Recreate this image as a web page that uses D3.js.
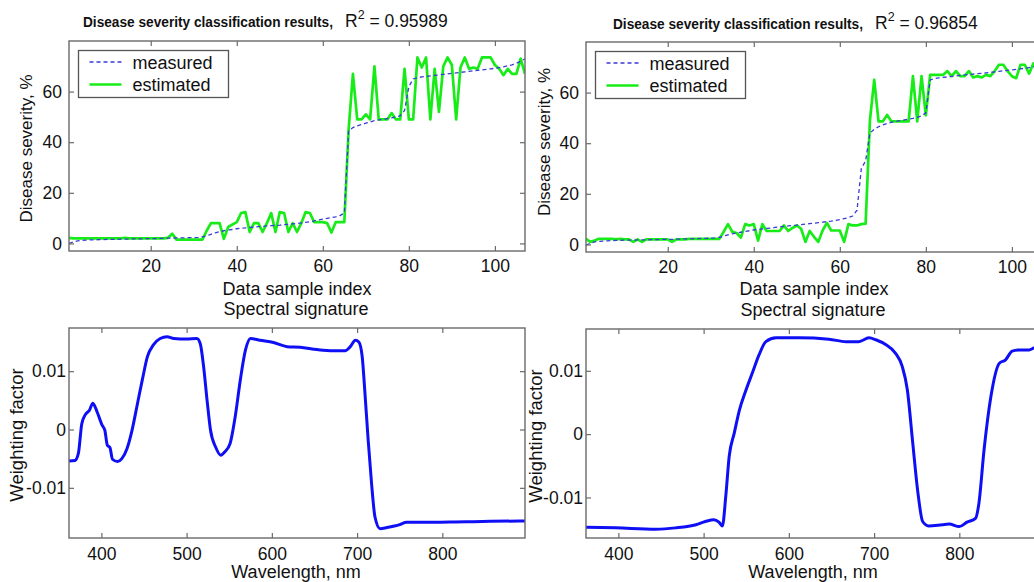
<!DOCTYPE html>
<html>
<head>
<meta charset="utf-8">
<script src="https://cdnjs.cloudflare.com/ajax/libs/d3/7.8.5/d3.min.js"></script>
<style>
  body { margin: 0; background: #fff; }
  svg { display: block; font-family: "Liberation Sans", Arial, sans-serif; }
</style>
</head>
<body>
<div id="chart"></div>
<script>
// ---- data ----
var sevTicksX = [20, 40, 60, 80, 100],
	sevTicksY = [0, 20, 40, 60],
	wlTicksX = [400, 500, 600, 700, 800],
	wfTicksY = [-0.01, 0, 0.01];

var legendNames = ["measured", "estimated"];
var r2Values = ["0.95989", "0.96854"];

// left model, sample index 1..107
var measured1 = [
	0, 0.6, 1.0, 1.2, 1.3, 1.4, 1.4, 1.5, 1.5, 1.6,
	1.6, 1.6, 1.7, 1.7, 1.7, 1.8, 1.8, 1.8, 1.9, 1.9,
	1.9, 2.0, 2.0, 2.1, 2.1, 2.2, 2.2, 2.2, 2.3, 2.3,
	2.4, 2.6, 3.0, 3.6, 4.2, 4.6, 5.0, 5.3, 5.5, 5.8,
	6.0, 6.1, 6.3, 6.4, 6.6, 6.7, 6.9, 7.0, 7.1, 7.2,
	7.4, 7.5, 7.7, 7.9, 8.1, 8.3, 8.6, 8.9, 9.3, 9.6,
	9.9, 10.2, 10.5, 11.0, 12.0, 44.5, 45.8, 46.5, 47.0, 47.5,
	48.0, 48.5, 48.8, 49.0, 49.3, 49.6, 50.0, 50.5, 52.5, 62.0,
	65.0, 65.5, 65.8, 66.0, 66.2, 66.4, 66.6, 66.8, 67.0, 67.2,
	67.4, 67.6, 67.8, 68.0, 68.2, 68.4, 68.6, 68.8, 69.0, 69.2,
	69.5, 69.8, 70.2, 70.6, 71.2, 72.0, 73.0
];
var estimated1 = [
	2.2, 2.0, 2.0, 2.0, 2.0, 2.0, 2.0, 2.0, 2.0, 2.0,
	2.0, 2.0, 2.0, 2.2, 2.0, 2.0, 2.0, 2.0, 2.0, 2.0,
	2.0, 2.0, 2.0, 2.2, 3.8, 1.5, 1.5, 1.5, 1.5, 1.5,
	1.5, 1.5, 5.0, 8.0, 8.0, 8.0, 1.8, 6.5, 7.5, 8.4,
	12.0, 12.4, 4.5, 8.0, 8.0, 4.5, 8.0, 12.0, 4.5, 12.4,
	12.0, 4.5, 8.0, 4.5, 8.0, 12.4, 12.0, 8.4, 8.4, 8.4,
	8.0, 4.3, 8.4, 8.4, 8.4, 45.0, 67.0, 49.0, 49.0, 51.0,
	49.0, 70.0, 49.0, 49.0, 49.0, 51.5, 49.0, 49.0, 69.0, 49.0,
	49.0, 73.5, 69.5, 73.5, 49.0, 69.0, 52.0, 70.0, 73.5, 70.5,
	49.0, 69.5, 73.5, 69.0, 69.5, 69.0, 73.5, 73.5, 73.5, 70.5,
	69.0, 66.5, 69.0, 67.0, 67.0, 73.0, 67.0
];

// right model
var measured2 = [
	-0.3, 0.5, 1.0, 1.2, 1.3, 1.4, 1.5, 1.6, 1.6, 1.7,
	1.7, 1.7, 1.8, 1.8, 1.8, 1.9, 1.9, 1.9, 2.0, 2.0,
	2.0, 2.1, 2.1, 2.2, 2.2, 2.3, 2.3, 2.4, 2.4, 2.5,
	2.6, 2.8, 3.3, 3.8, 4.2, 4.5, 4.8, 5.1, 5.4, 5.7,
	5.9, 6.1, 6.3, 6.5, 6.7, 6.9, 7.1, 7.3, 7.5, 7.6,
	7.8, 8.0, 8.2, 8.4, 8.6, 8.8, 9.0, 9.2, 9.5, 9.8,
	10.2, 10.6, 11.2, 13.5, 30.0, 33.0, 44.0, 45.5, 46.5, 47.2,
	47.8, 48.3, 48.6, 48.9, 49.2, 49.5, 49.8, 50.2, 50.8, 52.0,
	65.0, 65.5, 65.8, 66.0, 66.2, 66.4, 66.6, 66.8, 67.0, 67.1,
	67.3, 67.5, 67.6, 67.8, 68.0, 68.2, 68.4, 68.6, 68.8, 69.0,
	69.2, 69.4, 69.6, 69.9, 70.2, 70.6, 71.0
];
var estimated2 = [
	2.2, 1.0, 1.5, 2.2, 2.2, 2.2, 2.2, 2.0, 2.2, 2.0,
	2.0, 1.0, 2.0, 1.0, 2.0, 2.0, 2.0, 2.0, 2.0, 2.0,
	1.0, 2.0, 2.0, 2.0, 2.2, 2.2, 2.2, 2.2, 2.2, 2.2,
	2.2, 2.2, 5.0, 8.0, 5.0, 4.5, 2.7, 8.0, 7.5, 8.0,
	1.5, 8.0, 5.3, 5.3, 5.3, 5.3, 7.5, 5.3, 6.5, 7.5,
	6.2, 1.0, 5.3, 3.0, 1.0, 5.5, 8.5, 5.5, 5.5, 5.5,
	1.0, 8.0, 7.5, 7.5, 8.0, 8.2, 49.0, 65.0, 48.6, 48.6,
	51.2, 48.6, 48.6, 48.6, 48.6, 48.6, 66.5, 48.6, 66.5, 51.0,
	67.0, 67.0, 67.0, 67.0, 68.5, 66.5, 68.5, 66.5, 66.5, 68.5,
	66.0, 66.5, 66.0, 67.0, 66.5, 68.5, 71.0, 71.0, 68.5, 66.5,
	65.7, 71.0, 71.0, 67.5, 71.5, 70.0, 68.0
];

// spectral signatures: wavelength (nm) and weighting factor
var wavelength1 = [362, 369, 373, 377, 381, 386, 390, 395, 401, 404, 407, 410, 413, 419, 424, 430,
	436, 442, 448, 454, 461, 469, 477, 485, 500, 512, 516, 520, 524, 528, 534, 540, 545, 551, 557,
	563, 569, 575, 586, 602, 618, 633, 653, 672, 686, 692, 698, 702, 706, 709, 713, 717, 721, 727,
	735, 750, 758, 774, 828, 891, 897];
var weight1 = [-0.0054, -0.0053, -0.0041, 0.0010, 0.0025, 0.0033, 0.0045, 0.0030, 0.0007, -0.0001,
	-0.0027, -0.0031, -0.0051, -0.0055, -0.0050, -0.0033, -0.0001, 0.0042, 0.0085, 0.0125, 0.0145,
	0.0156, 0.0159, 0.0156, 0.0155, 0.0156, 0.0147, 0.0107, 0.0050, -0.0001, -0.0030, -0.0044,
	-0.0038, -0.0024, 0.0022, 0.0085, 0.0136, 0.0156, 0.0153, 0.0149, 0.0142, 0.0141, 0.0137,
	0.0135, 0.0135, 0.0142, 0.0153, 0.0150, 0.0125, 0.0067, -0.0018, -0.0093, -0.0150, -0.0170,
	-0.0168, -0.0163, -0.0159, -0.0159, -0.0158, -0.0157, -0.0157];

var wavelength2 = [362, 397, 444, 467, 491, 502, 512, 518, 522, 526, 530, 536, 542, 549, 557, 565,
	573, 585, 612, 647, 667, 682, 694, 702, 714, 725, 733, 739, 745, 751, 757, 764, 780, 788, 800,
	809, 819, 823, 829, 837, 847, 854, 862, 870, 882, 888, 897];
var weight2 = [-0.0147, -0.0148, -0.0150, -0.0148, -0.0143, -0.0138, -0.0135, -0.0139, -0.0145,
	-0.0098, -0.0035, 0.0002, 0.0038, 0.0067, 0.0096, 0.0125, 0.0146, 0.0152, 0.0152, 0.0150,
	0.0146, 0.0146, 0.0152, 0.0149, 0.0141, 0.0128, 0.0107, 0.0070, -0.0009, -0.0088, -0.0138,
	-0.0145, -0.0143, -0.0142, -0.0146, -0.0139, -0.0133, -0.0109, -0.0025, 0.0059, 0.0112,
	0.0117, 0.0131, 0.0133, 0.0133, 0.0136, 0.0136];

// ---- drawing ----
var W = 1034, H = 582;
var FONT = "'Liberation Sans', Arial, sans-serif";
var BOX = "#6a6a6a";
var GREEN = "#18ec18", DASHBLUE = "#3a3ad6", SPECBLUE = "#0f0ff5";

var svg = d3.select("#chart").append("svg")
	.attr("width", W)
	.attr("height", H);

svg.append("rect").attr("width", W).attr("height", H).attr("fill", "#fff");

var clipId = 0;

function drawAxes(g, x, y, xTicks, yTicks, yFmt, padX, padY) {
	var x0 = x.range()[0], x1 = x.range()[1],
		y0 = y.range()[1], y1 = y.range()[0];

	var axes = [
		g.append("g").attr("transform", "translate(0," + y1 + ")")
			.call(d3.axisBottom(x).tickValues(xTicks).tickSizeInner(-5).tickSizeOuter(0)
				.tickPadding(padX).tickFormat(d3.format("d"))),
		g.append("g").attr("transform", "translate(0," + y0 + ")")
			.call(d3.axisTop(x).tickValues(xTicks).tickSizeInner(-5).tickSizeOuter(0).tickFormat("")),
		g.append("g").attr("transform", "translate(" + x0 + ",0)")
			.call(d3.axisLeft(y).tickValues(yTicks).tickSizeInner(-5).tickSizeOuter(0)
				.tickPadding(padY).tickFormat(yFmt)),
		g.append("g").attr("transform", "translate(" + x1 + ",0)")
			.call(d3.axisRight(y).tickValues(yTicks).tickSizeInner(-5).tickSizeOuter(0).tickFormat(""))
	];
	axes.forEach(function(a) {
		a.attr("font-family", FONT).attr("font-size", 17.5);
		a.select(".domain").remove();
		a.selectAll(".tick line").attr("stroke", BOX).attr("stroke-width", 1.2);
		a.selectAll(".tick text").attr("fill", "#111");
	});

	g.append("rect")
		.attr("x", x0).attr("y", y0)
		.attr("width", x1 - x0).attr("height", y1 - y0)
		.attr("fill", "none")
		.attr("stroke", BOX)
		.attr("stroke-width", 1.4);
}

function addClip(x0, y0, x1, y1) {
	var id = "clip" + (clipId++);
	svg.append("clipPath").attr("id", id)
		.append("rect").attr("x", x0).attr("y", y0).attr("width", x1 - x0).attr("height", y1 - y0);
	return "url(#" + id + ")";
}

function severityPanel(c, measured, estimated, r2) {
	var g = svg.append("g");
	var x = d3.scaleLinear().domain([1, 107]).range([c.x0, c.x1]);
	var y = d3.scaleLinear().domain([-3, 80]).range([c.y1, c.y0]);

	var line = d3.line()
		.x(function(d, i) { return x(i + 1); })
		.y(function(d) { return y(d); });

	var plot = g.append("g").attr("clip-path", addClip(c.x0, c.y0, c.x1, c.y1));

	plot.append("path").datum(estimated)
		.attr("d", line)
		.attr("fill", "none")
		.attr("stroke", GREEN)
		.attr("stroke-width", 2.7)
		.attr("stroke-linejoin", "round");

	plot.append("path").datum(measured)
		.attr("d", line)
		.attr("fill", "none")
		.attr("stroke", DASHBLUE)
		.attr("stroke-width", 1.3)
		.attr("stroke-dasharray", "4,3");

	drawAxes(g, x, y, sevTicksX, sevTicksY, d3.format("d"), 9, 7);

	// legend
	var lg = g.append("g").attr("transform", "translate(" + (c.x0 + 9.5) + "," + (c.y0 + 9.5) + ")");
	lg.append("rect").attr("width", 150).attr("height", 47)
		.attr("fill", "#fff").attr("stroke", "#555").attr("stroke-width", 1.3);
	lg.append("line").attr("x1", 11).attr("x2", 43).attr("y1", 11.5).attr("y2", 11.5)
		.attr("stroke", DASHBLUE).attr("stroke-width", 1.3).attr("stroke-dasharray", "4,3");
	lg.append("line").attr("x1", 11).attr("x2", 43).attr("y1", 34).attr("y2", 34)
		.attr("stroke", GREEN).attr("stroke-width", 2.7);
	lg.selectAll("text.lab").data(legendNames).enter().append("text")
		.attr("class", "lab")
		.attr("x", 54)
		.attr("y", function(d, i) { return 18 + i * 22.5; })
		.attr("font-size", 18)
		.attr("fill", "#111")
		.text(function(d) { return d; });

	// title
	g.append("text")
		.attr("x", c.tx1).attr("y", c.ty)
		.attr("font-size", 14)
		.attr("font-weight", "bold")
		.attr("fill", "#111")
		.attr("textLength", 250)
		.attr("lengthAdjust", "spacingAndGlyphs")
		.text("Disease severity classification results,");
	var t2 = g.append("text")
		.attr("x", c.tx2).attr("y", c.ty)
		.attr("font-size", 17.5)
		.attr("fill", "#111");
	t2.append("tspan").text("R");
	t2.append("tspan").attr("font-size", 12.5).attr("dy", -8).text("2");
	t2.append("tspan").attr("dy", 8).text(" = " + r2);

	// axis labels
	g.append("text")
		.attr("x", c.xlx).attr("y", 295)
		.attr("text-anchor", "middle")
		.attr("font-size", 18).attr("fill", "#111")
		.text("Data sample index");
	g.append("text")
		.attr("transform", "translate(" + c.ylx + "," + c.yly + ") rotate(-90)")
		.attr("text-anchor", "middle")
		.attr("font-size", 17).attr("fill", "#111")
		.text("Disease severity, %");
}

function spectrumPanel(c, wl, wf) {
	var g = svg.append("g");
	var x = d3.scaleLinear().domain([362, 897]).range([c.x0, c.x1]);
	var y = d3.scaleLinear().domain(c.yDomain).range([c.y1, c.y0]);

	var line = d3.line()
		.x(function(d, i) { return x(wl[i]); })
		.y(function(d) { return y(d); })
		.curve(d3.curveMonotoneX);

	g.append("g").attr("clip-path", addClip(c.x0, c.y0, c.x1, c.y1))
		.append("path").datum(wf)
		.attr("d", line)
		.attr("fill", "none")
		.attr("stroke", SPECBLUE)
		.attr("stroke-width", 3)
		.attr("stroke-linejoin", "round");

	drawAxes(g, x, y, wlTicksX, wfTicksY, function(d) { return d === 0 ? "0" : String(d); }, 9.5, 3);

	g.append("text")
		.attr("x", c.cx).attr("y", c.y0 - 13.5)
		.attr("text-anchor", "middle")
		.attr("font-size", 18).attr("fill", "#111")
		.text("Spectral signature");
	g.append("text")
		.attr("x", c.cx).attr("y", 578)
		.attr("text-anchor", "middle")
		.attr("font-size", 18).attr("fill", "#111")
		.text("Wavelength, nm");
	g.append("text")
		.attr("transform", "translate(" + c.ylx + "," + c.yly + ") rotate(-90)")
		.attr("text-anchor", "middle")
		.attr("font-size", 18.5).attr("fill", "#111")
		.text("Weighting factor");
}

severityPanel({ x0: 69, x1: 525, y0: 41, y1: 251, tx1: 83, tx2: 345, ty: 27, xlx: 297, ylx: 32, yly: 148.5 },
	measured1, estimated1, r2Values[0]);
severityPanel({ x0: 586, x1: 1042, y0: 42, y1: 252, tx1: 613, tx2: 875, ty: 28.5, xlx: 814, ylx: 549.5, yly: 142 },
	measured2, estimated2, r2Values[1]);

spectrumPanel({ x0: 69, x1: 525, y0: 328, y1: 538, yDomain: [-0.0186, 0.0174], cx: 296, ylx: 23, yly: 435 },
	wavelength1, weight1);
spectrumPanel({ x0: 586, x1: 1042, y0: 329, y1: 538, yDomain: [-0.0164, 0.0166], cx: 813, ylx: 541.5, yly: 436 },
	wavelength2, weight2);
</script>
</body>
</html>
